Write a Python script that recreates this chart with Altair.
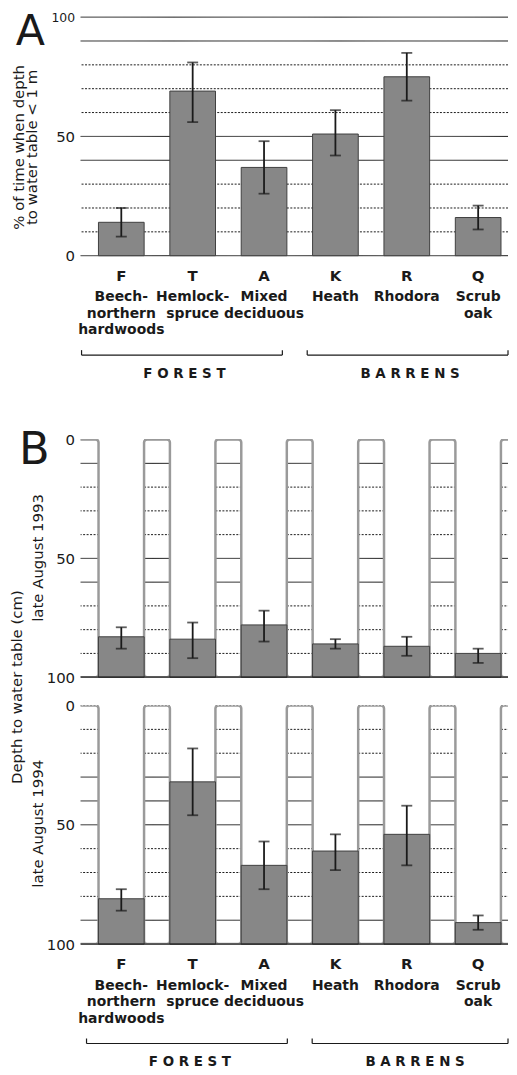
import altair as alt
import pandas as pd

# ---------------- data ----------------
codes = ["F", "T", "A", "K", "R", "Q"]
names = ["Beech-\nnorthern\nhardwoods", "Hemlock-\nspruce", "Mixed\ndeciduous",
         "Heath", "Rhodora", "Scrub\noak"]
groups = ["FOREST", "BARRENS"]

# Panel A: % of time when depth to water table < 1 m
pct_mean = [14, 69, 37, 51, 75, 16]
pct_low = [8, 56, 26, 42, 65, 11]
pct_high = [20, 81, 48, 61, 85, 21]

# Panel B: depth to water table (cm), late August 1993
d93_mean = [83, 84, 78, 86, 87, 90]
d93_low = [79, 77, 72, 84, 83, 88]
d93_high = [88, 92, 85, 88, 91, 94]

# Panel B: depth to water table (cm), late August 1994
d94_mean = [81, 32, 67, 61, 54, 91]
d94_low = [77, 18, 57, 54, 42, 88]
d94_high = [86, 46, 77, 69, 67, 94]

grid_levels = [0, 10, 20, 30, 40, 50, 60, 70, 80, 90, 100]
tick_values = [0, 50, 100]

# ---------------- style ----------------
FONT = "DejaVu Sans"
INK = "#1a1a1a"
BAR_FILL = "#878787"
BAR_STROKE = "#404040"
TUBE = "#9a9a9a"
SOLID_A = [0, 40, 50, 90, 100]
SOLID_93 = [0, 10, 50, 60, 100]
SOLID_94 = [30, 40, 50, 90, 100]

W = 430
HA, HB1, HB2 = 240, 239, 240
N = len(codes)
PI = 0.36
STEP = 71.8
LEFT = 18
TW = 26  # tube width
outer = (W - STEP * (N - PI)) / STEP
xs = alt.Scale(domain=codes, paddingInner=PI, paddingOuter=outer / 2,
               align=LEFT / (outer * STEP))
X = alt.X("code:N", scale=xs, axis=None, sort=codes)

one = pd.DataFrame({"k": [0]})
grid_df = pd.DataFrame({"level": grid_levels})


def frame(mean, low, high):
    return pd.DataFrame({"code": codes, "name": names, "mean": mean,
                         "low": low, "high": high})


dfA = frame(pct_mean, pct_low, pct_high)
df93 = frame(d93_mean, d93_low, d93_high)
df94 = frame(d94_mean, d94_low, d94_high)
tube_grid_df = pd.DataFrame([(c, l) for c in codes for l in grid_levels[:-1]],
                            columns=["code", "level"])


def yaxis(small_top=False):
    size = {"condition": {"test": "datum.value === 100", "value": 12.5}, "value": 15} \
        if small_top else 15
    return alt.Axis(values=tick_values, ticks=False, domain=False, grid=False,
                    labelFontSize=size, labelPadding=6, title=None,
                    labelFont=FONT, labelColor=INK)


def Y(field, scale, small_top=False):
    return alt.Y(field, scale=scale, axis=yaxis(small_top), title=None)


def dash(solid):
    return alt.condition(f"indexof({solid}, datum.level) >= 0",
                         alt.value([1, 0]), alt.value([2, 1.5]))


def errorbars(df, scale, small_top=False):
    rule = alt.Chart(df).mark_rule(color=INK, strokeWidth=1.8).encode(
        x=X, y=Y("low:Q", scale, small_top), y2="high:Q")
    lo = alt.Chart(df).mark_tick(color=INK, thickness=1.8, size=11).encode(
        x=X, y=Y("low:Q", scale, small_top))
    hi = alt.Chart(df).mark_tick(color=INK, thickness=1.8, size=11).encode(
        x=X, y=Y("high:Q", scale, small_top))
    return [rule, lo, hi]


def txt(text, x, y, size=15, weight="normal", angle=0, baseline="middle"):
    return alt.Chart(one).mark_text(text=text, font=FONT, fontSize=size,
                                    fontWeight=weight, angle=angle, color=INK,
                                    baseline=baseline, align="center").encode(
        x=alt.value(x), y=alt.value(y))


def bottom_labels(df, H, brackets):
    letters = alt.Chart(df).mark_text(font=FONT, fontWeight="bold", fontSize=15,
                                      color=INK, baseline="middle").encode(
        x=X, y=alt.value(H + 20), text="code:N")
    nm = alt.Chart(df).mark_text(font=FONT, fontWeight="bold", fontSize=14,
                                 lineBreak="\n", lineHeight=16.5, baseline="top",
                                 color=INK).encode(
        x=X, y=alt.value(H + 35), text="name:N")
    layers = [letters, nm]
    for g, (x0, x1, xl) in zip(groups, brackets):
        yb = H + 100
        layers += [
            alt.Chart(one).mark_rule(color=INK, strokeWidth=1.2).encode(
                x=alt.value(x0), x2=alt.value(x1), y=alt.value(yb)),
            alt.Chart(one).mark_rule(color=INK, strokeWidth=1.2).encode(
                x=alt.value(x0), y=alt.value(yb - 5), y2=alt.value(yb)),
            alt.Chart(one).mark_rule(color=INK, strokeWidth=1.2).encode(
                x=alt.value(x1), y=alt.value(yb - 5), y2=alt.value(yb)),
            txt(" ".join(g), xl, H + 119, size=13.5, weight="bold"),
        ]
    return layers


# ---------------- panel A ----------------
ya = alt.Scale(domain=[0, 100], nice=False, zero=True)
gridA = alt.Chart(grid_df).mark_rule(color=INK, strokeWidth=1).encode(
    y=Y("level:Q", ya, True), strokeDash=dash(SOLID_A))
barsA = alt.Chart(dfA).mark_bar(fill=BAR_FILL, stroke=BAR_STROKE, strokeWidth=1).encode(
    x=X, y=Y("mean:Q", ya, True))
panelA = alt.layer(
    gridA, barsA, *errorbars(dfA, ya, True),
    txt("A", -50.5, 28, size=43, baseline="alphabetic"),
    txt("% of time when depth", -62, 131, size=15, angle=270),
    txt("to water table < 1 m", -48.5, 131, size=15, angle=270),
    *bottom_labels(dfA, HA, [(1, 203, 104.5), (228, 430, 331.5)]),
).properties(width=W, height=HA)


# ---------------- panel B ----------------
def panelB(df, H, solid, extra, labels=False):
    yb = alt.Scale(domain=[0, 100], reverse=True, nice=False)
    y0 = alt.YDatum(0, scale=yb, axis=yaxis())
    y100 = alt.Y2Datum(100)
    # dotted / solid levels drawn inside each open tube (and the clipped one at left)
    tg = []
    for data, off in ((tube_grid_df, STEP / 2),
                      (tube_grid_df[tube_grid_df.code == codes[0]], -STEP / 2)):
        tg.append(alt.Chart(data).mark_rule(
            color=INK, strokeWidth=1, clip=True,
            xOffset=off - TW / 2, x2Offset=off + TW / 2).encode(
            x=X, x2="code:N", y=Y("level:Q", yb), strokeDash=dash(solid)))
    tube_kw = dict(fill="transparent", stroke=TUBE, strokeWidth=2.5,
                   cornerRadius=3, width=TW, clip=True)
    tubes = alt.Chart(df).mark_bar(xOffset=STEP / 2, **tube_kw).encode(
        x=X, y=y0, y2=y100)
    tube0 = alt.Chart(df.iloc[:1]).mark_bar(xOffset=-STEP / 2, **tube_kw).encode(
        x=X, y=y0, y2=y100)
    bars = alt.Chart(df).mark_bar(fill=BAR_FILL, stroke=BAR_STROKE, strokeWidth=1).encode(
        x=X, y=Y("mean:Q", yb), y2=y100)
    base = alt.Chart(one).mark_rule(color=INK, strokeWidth=1.3).encode(
        y=alt.YDatum(100, scale=yb, axis=yaxis()))
    layers = [*tg, tubes, tube0, bars, base, *errorbars(df, yb), *extra]
    if labels:
        layers += bottom_labels(df, H, [(6, 208, 110), (233, 430, 336.5)])
    return alt.layer(*layers).properties(width=W, height=H)


panelB1 = panelB(df93, HB1, SOLID_93, [
    txt("B", -46.5, 25, size=45, baseline="alphabetic"),
    txt("Depth to water table (cm)", -64, 249, size=15, angle=270),
    txt("late August 1993", -43, 119, size=15, angle=270),
])
panelB2 = panelB(df94, HB2, SOLID_94, [
    txt("late August 1994", -43, 119, size=15, angle=270),
], labels=True)

spacer = alt.Chart(one).mark_point(opacity=0, size=1).properties(width=W, height=128)

chart = alt.vconcat(panelA, spacer, panelB1, panelB2, spacing=28.5, bounds="flush").properties(
    padding={"left": 2, "top": 0, "right": 0, "bottom": 0},
    background="white",
).configure_view(stroke=None)

chart.save("out.html", embed_options={"renderer": "svg", "actions": False})
